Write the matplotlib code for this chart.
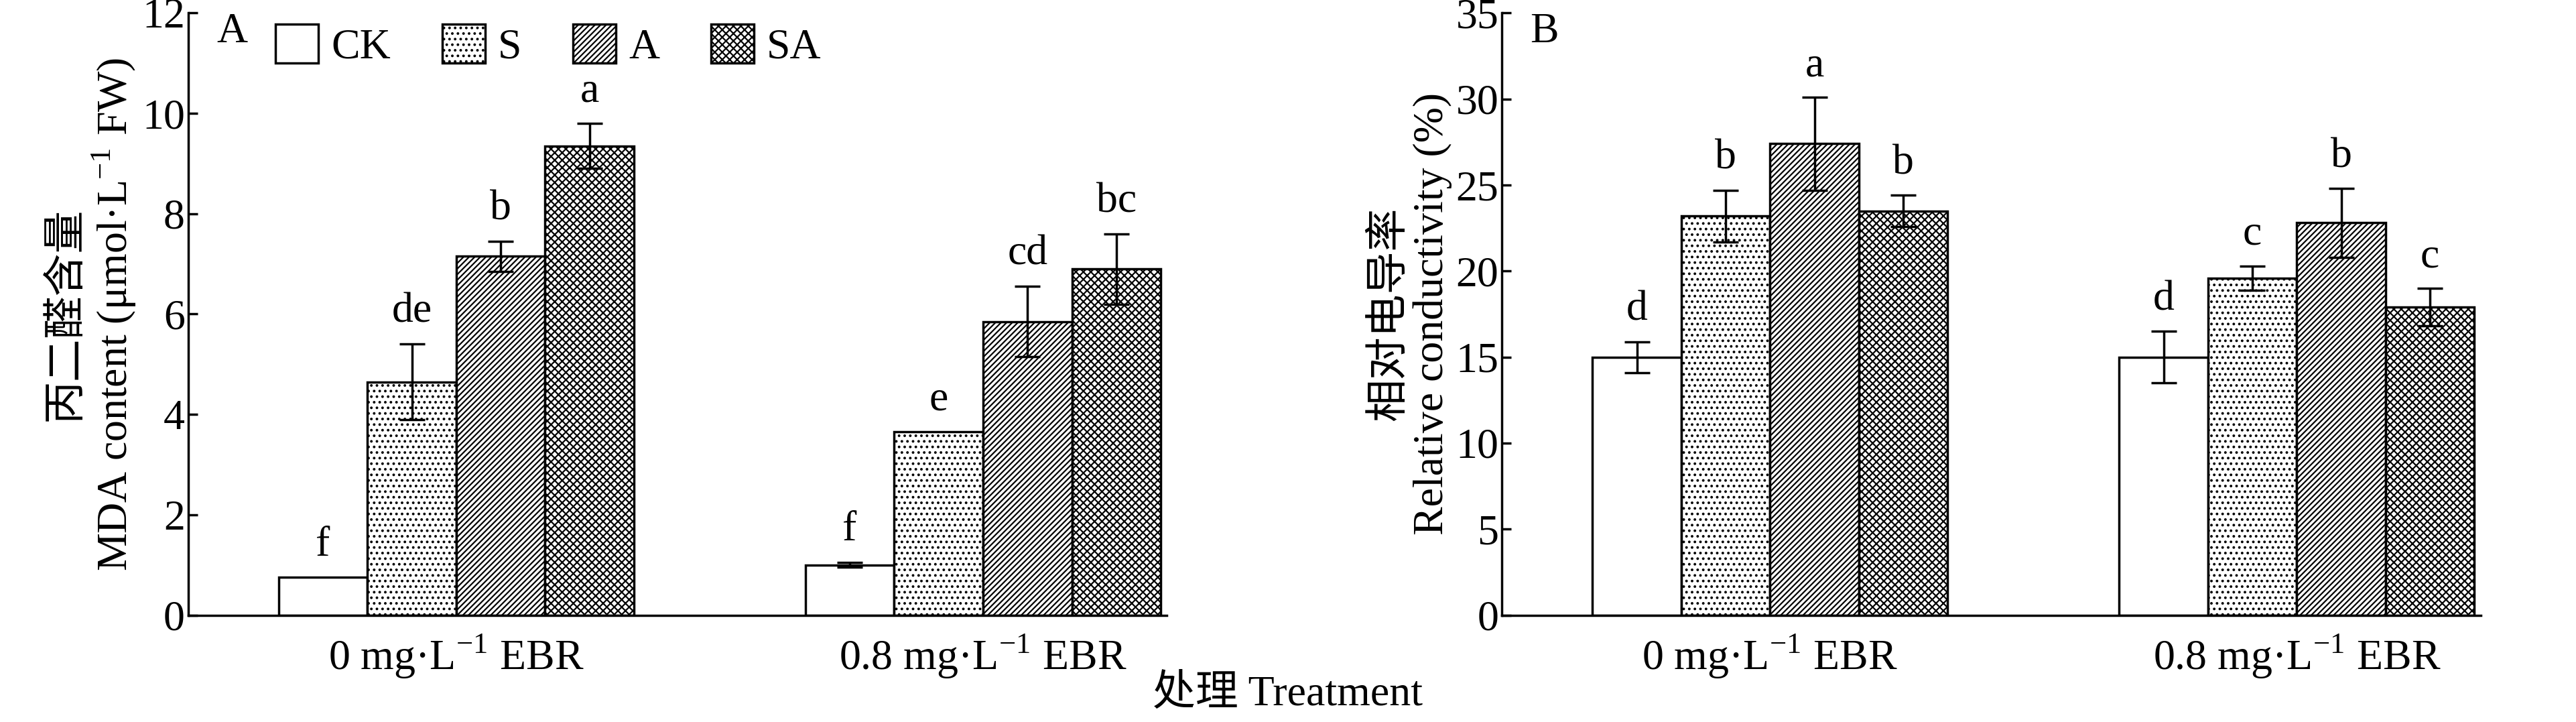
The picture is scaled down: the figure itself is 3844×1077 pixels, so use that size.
import matplotlib
matplotlib.use("Agg")
import matplotlib.pyplot as plt
import numpy as np
from matplotlib.patches import Patch

plt.rcParams['font.family'] = ['Liberation Serif', 'Noto Sans CJK SC']
plt.rcParams['mathtext.fontset'] = 'custom'
plt.rcParams['mathtext.rm'] = 'Liberation Serif'
plt.rcParams['hatch.linewidth'] = 1.6

treatments = ['CK', 'S', 'A', 'SA']
groups = ['0 mg·L$^{-1}$ EBR', '0.8 mg·L$^{-1}$ EBR']
mda = [[0.75, 4.65, 7.15, 9.35], [1.0, 3.65, 5.85, 6.9]]
mda_err = [[0.0, 0.75, 0.3, 0.45], [0.05, 0.0, 0.7, 0.7]]
mda_let = [['f', 'de', 'b', 'a'], ['f', 'e', 'cd', 'bc']]
rc = [[15.0, 23.2, 27.4, 23.5], [15.0, 19.6, 22.8, 17.9]]
rc_err = [[0.9, 1.5, 2.7, 0.9], [1.5, 0.7, 2.0, 1.1]]
rc_let = [['d', 'b', 'a', 'b'], ['d', 'c', 'b', 'c']]

hatches = ['', '..', '////', 'xxx']
FS = 46

fig = plt.figure(figsize=(38.44, 10.77), dpi=100)
axA = fig.add_axes([0.073, 0.148, 0.38, 0.834])
axB = fig.add_axes([0.583, 0.148, 0.38, 0.834])

def draw(ax, vals, errs, lets, ymax, step, off):
    for g in range(2):
        for i in range(4):
            x = g * 5.93 + i
            ax.bar(x, vals[g][i], width=1.0, color='white', edgecolor='black',
                   hatch=hatches[i], linewidth=2.5)
            if errs[g][i] > 0:
                ax.errorbar(x, vals[g][i], yerr=errs[g][i], color='black',
                            capsize=14, elinewidth=2.5, capthick=2.5)
            ax.text(x, vals[g][i] + errs[g][i] + off, lets[g][i], ha='center',
                    va='bottom', fontsize=FS)
    ax.set_xlim(-1.52, 9.5)
    ax.set_ylim(0, ymax)
    ax.set_yticks(np.arange(0, ymax + 0.01, step))
    ax.set_xticks([1.5, 5.93 + 1.5])
    ax.set_xticklabels(groups, fontsize=FS)
    ax.tick_params(axis='x', length=0, pad=18)
    ax.tick_params(axis='y', direction='in', length=10, width=2.5, labelsize=FS)
    for s in ['top', 'right']:
        ax.spines[s].set_visible(False)
    for s in ['left', 'bottom']:
        ax.spines[s].set_linewidth(2.5)

draw(axA, mda, mda_err, mda_let, 12, 2, 0.25)
draw(axB, rc, rc_err, rc_let, 35, 5, 0.7)

axA.set_ylabel('丙二醛含量\nMDA content (μmol·L$^{-1}$ FW)', fontsize=FS, linespacing=1.1)
axB.set_ylabel('相对电导率\nRelative conductivity (%)', fontsize=FS, linespacing=1.1)
axA.text(-1.2, 12, 'A', fontsize=FS, va='top')
axB.text(-1.2, 35, 'B', fontsize=FS, va='top')

handles = [Patch(facecolor='white', edgecolor='black', hatch=h, linewidth=2.5) for h in hatches]
axA.legend(handles, treatments, loc='upper left', bbox_to_anchor=(0.05, 1.045), ncol=4,
           frameon=False, fontsize=FS, handlelength=1.0, handleheight=1.0,
           handletextpad=0.3, columnspacing=1.2)

fig.text(0.5, 0.01, '处理 Treatment', ha='center', va='bottom', fontsize=FS)
fig.savefig('out.png', dpi=100)
